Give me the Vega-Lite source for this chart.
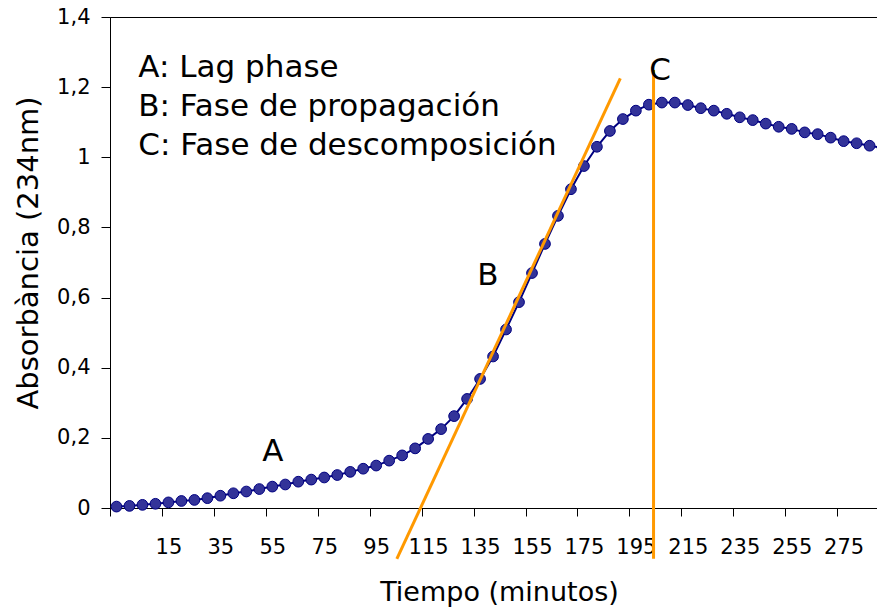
{
  "$schema": "https://vega.github.io/schema/vega-lite/v6.json",
  "autosize": "none",
  "padding": {"left": 110, "top": 17, "right": 0, "bottom": 99},
  "width": 770,
  "height": 491,
  "background": "white",
  "config": {
    "view": {"stroke": "black", "strokeWidth": 1},
    "font": "DejaVu Sans",
    "axis": {
      "grid": false,
      "domainColor": "black",
      "domainWidth": 1,
      "tickColor": "black",
      "tickWidth": 1,
      "labelColor": "black",
      "titleColor": "black",
      "labelFont": "DejaVu Sans",
      "titleFont": "DejaVu Sans",
      "titleFontWeight": "normal",
      "labelFontSize": 21
    }
  },
  "datasets": {
    "curve": [
      {"t": -5, "abs": 0.004}, {"t": 0, "abs": 0.006}, {"t": 5, "abs": 0.009}, {"t": 10, "abs": 0.012},
      {"t": 15, "abs": 0.016}, {"t": 20, "abs": 0.020}, {"t": 25, "abs": 0.023}, {"t": 30, "abs": 0.028},
      {"t": 35, "abs": 0.035}, {"t": 40, "abs": 0.042}, {"t": 45, "abs": 0.047}, {"t": 50, "abs": 0.054},
      {"t": 55, "abs": 0.061}, {"t": 60, "abs": 0.067}, {"t": 65, "abs": 0.075}, {"t": 70, "abs": 0.081},
      {"t": 75, "abs": 0.087}, {"t": 80, "abs": 0.094}, {"t": 85, "abs": 0.103}, {"t": 90, "abs": 0.112},
      {"t": 95, "abs": 0.121}, {"t": 100, "abs": 0.135}, {"t": 105, "abs": 0.150}, {"t": 110, "abs": 0.170},
      {"t": 115, "abs": 0.197}, {"t": 120, "abs": 0.225}, {"t": 125, "abs": 0.262}, {"t": 130, "abs": 0.311},
      {"t": 135, "abs": 0.368}, {"t": 140, "abs": 0.432}, {"t": 145, "abs": 0.509}, {"t": 150, "abs": 0.587},
      {"t": 155, "abs": 0.670}, {"t": 160, "abs": 0.753}, {"t": 165, "abs": 0.833}, {"t": 170, "abs": 0.909},
      {"t": 175, "abs": 0.975}, {"t": 180, "abs": 1.030}, {"t": 185, "abs": 1.075}, {"t": 190, "abs": 1.109},
      {"t": 195, "abs": 1.133}, {"t": 200, "abs": 1.150}, {"t": 205, "abs": 1.156}, {"t": 210, "abs": 1.156},
      {"t": 215, "abs": 1.149}, {"t": 220, "abs": 1.140}, {"t": 225, "abs": 1.133}, {"t": 230, "abs": 1.124},
      {"t": 235, "abs": 1.114}, {"t": 240, "abs": 1.106}, {"t": 245, "abs": 1.096}, {"t": 250, "abs": 1.087},
      {"t": 255, "abs": 1.081}, {"t": 260, "abs": 1.071}, {"t": 265, "abs": 1.066}, {"t": 270, "abs": 1.056},
      {"t": 275, "abs": 1.046}, {"t": 280, "abs": 1.040}, {"t": 285, "abs": 1.033}, {"t": 290, "abs": 1.027}
    ],
    "phases": [
      {"line": "B", "t": 102.95, "abs": -0.145},
      {"line": "B", "t": 189.0, "abs": 1.225},
      {"line": "C", "t": 201.8, "abs": 1.249},
      {"line": "C", "t": 201.8, "abs": -0.145}
    ],
    "legend": [
      {"t": 3.4, "abs": 1.228, "label": "A: Lag phase"},
      {"t": 3.4, "abs": 1.118, "label": "B: Fase de propagación"},
      {"t": 3.4, "abs": 1.0066, "label": "C: Fase de descomposición"}
    ],
    "letters": [
      {"t": 55.2, "abs": 0.133, "label": "A"},
      {"t": 138.0, "abs": 0.636, "label": "B"},
      {"t": 204.3, "abs": 1.220, "label": "C"}
    ]
  },
  "layer": [
    {
      "data": {"name": "curve"},
      "mark": {"type": "line", "color": "#000080", "strokeWidth": 2},
      "encoding": {
        "x": {
          "field": "t", "type": "quantitative",
          "scale": {"domain": [-7.5, 289], "nice": false, "zero": false},
          "axis": {
            "orient": "bottom",
            "values": [15, 35, 55, 75, 95, 115, 135, 155, 175, 195, 215, 235, 255, 275],
            "ticks": false, "tickSize": 0, "domain": false,
            "labelBaseline": "alphabetic", "labelPadding": 45,
            "labelOverlap": false, "labelFlush": false, "labelFontSize": 21,
            "title": "Tiempo (minutos)", "titleFontSize": 27,
            "titleX": 389, "titleY": 92, "titleBaseline": "alphabetic", "titleAlign": "center"
          }
        },
        "y": {
          "field": "abs", "type": "quantitative",
          "scale": {"domain": [0, 1.4], "nice": false, "zero": false},
          "axis": {
            "values": [0, 0.2, 0.4, 0.6, 0.8, 1, 1.2, 1.4],
            "tickSize": 9, "labelPadding": 11, "labelFontSize": 21,
            "labelExpr": "replace(format(datum.value, '.1~f'), '.', ',')",
            "title": "Absorbància (234nm)", "titleFontSize": 29,
            "titleAngle": 270, "titleX": -73, "titleY": 235.5,
            "titleBaseline": "alphabetic", "titleAlign": "center"
          }
        }
      }
    },
    {
      "data": {"name": "curve"},
      "mark": {"type": "point", "filled": true, "fill": "#333399", "stroke": "#000080", "strokeWidth": 1, "size": 115, "opacity": 1},
      "encoding": {
        "x": {"field": "t", "type": "quantitative", "axis": null},
        "y": {"field": "abs", "type": "quantitative"}
      }
    },
    {
      "data": {"name": "phases"},
      "mark": {"type": "line", "color": "#FF9900", "strokeWidth": 3, "clip": false},
      "encoding": {
        "x": {
          "field": "t", "type": "quantitative",
          "axis": {
            "orient": "bottom",
            "values": [-7.5, 12.5, 32.5, 52.5, 72.5, 92.5, 112.5, 132.5, 152.5, 172.5, 192.5, 212.5, 232.5, 252.5, 272.5],
            "labels": false, "ticks": true, "tickSize": 8, "domain": true, "title": null
          }
        },
        "y": {"field": "abs", "type": "quantitative"},
        "detail": {"field": "line", "type": "nominal"}
      }
    },
    {
      "data": {"name": "legend"},
      "mark": {"type": "text", "align": "left", "baseline": "alphabetic", "font": "DejaVu Sans", "fontSize": 31, "color": "black"},
      "encoding": {
        "x": {"field": "t", "type": "quantitative", "axis": null},
        "y": {"field": "abs", "type": "quantitative"},
        "text": {"field": "label"}
      }
    },
    {
      "data": {"name": "letters"},
      "mark": {"type": "text", "align": "center", "baseline": "alphabetic", "font": "DejaVu Sans", "fontSize": 31, "color": "black"},
      "encoding": {
        "x": {"field": "t", "type": "quantitative", "axis": null},
        "y": {"field": "abs", "type": "quantitative"},
        "text": {"field": "label"}
      }
    }
  ],
  "resolve": {"axis": {"x": "independent"}}
}
